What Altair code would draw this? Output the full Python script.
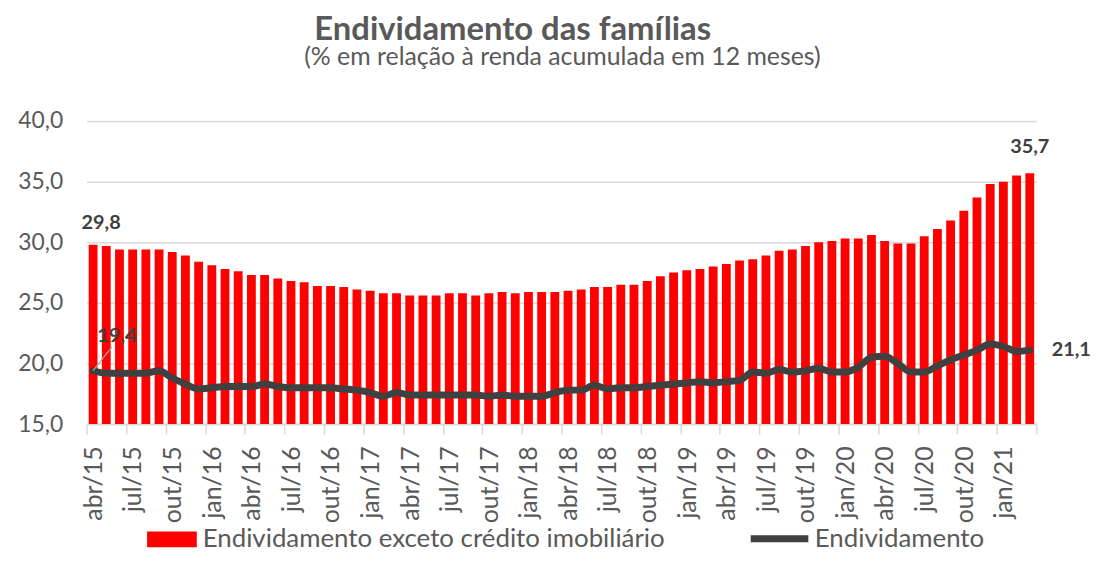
import json
import altair as alt
import pandas as pd

# ---------------- data ----------------
nomes_mes = ["jan", "fev", "mar", "abr", "mai", "jun", "jul", "ago", "set", "out", "nov", "dez"]
meses = []
for k in range(72):
    m = (3 + k) % 12
    a = 15 + (3 + k) // 12
    meses.append(f"{nomes_mes[m]}/{a:02d}")

exceto_imob = [
    29.8, 29.7, 29.4, 29.4, 29.4, 29.4, 29.2, 28.9, 28.4, 28.1, 27.8, 27.6,
    27.3, 27.3, 27.0, 26.8, 26.7, 26.4, 26.4, 26.3, 26.1, 26.0, 25.8, 25.8,
    25.6, 25.6, 25.6, 25.8, 25.8, 25.6, 25.8, 25.9, 25.8, 25.9, 25.9, 25.9,
    26.0, 26.1, 26.3, 26.3, 26.5, 26.5, 26.8, 27.2, 27.5, 27.7, 27.8, 28.0,
    28.2, 28.5, 28.6, 28.9, 29.3, 29.4, 29.7, 30.0, 30.1, 30.3, 30.3, 30.6,
    30.1, 29.9, 29.9, 30.5, 31.1, 31.8, 32.6, 33.7, 34.8, 35.0, 35.5, 35.7,
]
endividamento = [
    19.4, 19.2, 19.2, 19.2, 19.2, 19.4, 18.8, 18.3, 17.9, 18.0, 18.1, 18.1,
    18.1, 18.3, 18.1, 18.0, 18.0, 18.0, 18.0, 17.9, 17.8, 17.6, 17.3, 17.6,
    17.4, 17.4, 17.4, 17.4, 17.4, 17.4, 17.3, 17.4, 17.3, 17.3, 17.3, 17.6,
    17.8, 17.8, 18.2, 17.9, 18.0, 18.0, 18.1, 18.2, 18.3, 18.4, 18.5, 18.4,
    18.5, 18.6, 19.3, 19.2, 19.5, 19.3, 19.4, 19.6, 19.3, 19.3, 19.7, 20.5,
    20.6, 20.0, 19.3, 19.3, 19.8, 20.3, 20.7, 21.1, 21.6, 21.4, 21.0, 21.1,
]
y_ticks = [15, 20, 25, 30, 35, 40]
serie_barras = "Endividamento exceto crédito imobiliário"
serie_linha = "Endividamento"
titulo = "Endividamento das famílias"
subtitulo = "(% em relação à renda acumulada em 12 meses)"

df = pd.DataFrame({
    "mes": meses,
    "i": list(range(len(meses))),
    "exceto": exceto_imob,
    "endiv": endividamento,
})

# ---------------- style ----------------
W, H = 956, 305
FONT = "Lato"
GREY = "#595959"
DARK = "#404040"
GRID = "#d9d9d9"
N = len(meses)

tick_vals = list(range(0, N + 1, 3))
tick_labels = meses[::3]
label_expr = f"datum.value < {N} ? {json.dumps(tick_labels)}[datum.value / 3] : ''"

xscale = alt.Scale(domain=[0, N], nice=False, zero=False)
yscale = alt.Scale(domain=[15, 40], nice=False, zero=False)

x_axis = alt.Axis(
    values=tick_vals, tickCount=200, labelExpr=label_expr, title=None, grid=False,
    labelAngle=-90, labelFont=FONT, labelFontSize=25, labelColor=GREY,
    labelOffset=7, labelPadding=12, tickSize=10, tickColor=GRID, tickWidth=1.5,
    domainColor=GRID, domainWidth=1.5, labelOverlap=False, labelBound=False,
)
y_axis = alt.Axis(
    values=y_ticks, title=None, grid=True, gridColor=GRID, gridWidth=1.5,
    domain=False, ticks=False, labelFont=FONT, labelFontSize=23, labelColor=GREY,
    labelPadding=24, labelExpr="replace(format(datum.value, '.1f'), '.', ',')",
)

base = alt.Chart(df).transform_calculate(
    x0="datum.i", x1="datum.i + 1", xc="datum.i + 0.5",
    t_bar="replace(format(datum.exceto, '.1f'), '.', ',')",
    t_line="replace(format(datum.endiv, '.1f'), '.', ',')",
)

bars = base.transform_calculate(serie=f"'{serie_barras}'").mark_bar(
    xOffset=2.2, x2Offset=-2.2
).encode(
    x=alt.X("x0:Q", scale=xscale, axis=x_axis),
    x2="x1:Q",
    y=alt.Y("exceto:Q", scale=yscale, axis=y_axis),
    y2=alt.datum(15),
    fill=alt.Fill(
        "serie:N",
        scale=alt.Scale(domain=[serie_barras], range=["#ff0000"]),
        legend=alt.Legend(
            title=None, orient="none", legendX=61, legendY=396, padding=0,
            symbolType="M-1,-0.32L1,-0.32L1,0.32L-1,0.32Z", symbolSize=2500,
            symbolStrokeWidth=0, labelFont=FONT, labelFontSize=26,
            labelColor=GREY, labelOffset=6, labelLimit=0,
        ),
    ),
)

line = base.transform_calculate(serie=f"'{serie_linha}'").mark_line(
    strokeWidth=7, interpolate="monotone", strokeCap="round", strokeJoin="round"
).encode(
    x=alt.X("xc:Q", scale=xscale),
    y=alt.Y("endiv:Q", scale=yscale),
    stroke=alt.Stroke(
        "serie:N",
        scale=alt.Scale(domain=[serie_linha], range=[DARK]),
        legend=alt.Legend(
            title=None, orient="none", legendX=665, legendY=388, padding=0,
            symbolType="stroke", symbolSize=3364, symbolStrokeWidth=7,
            labelFont=FONT, labelFontSize=26, labelColor=GREY, labelOffset=3,
            labelLimit=0,
        ),
    ),
)

lbl_kw = dict(font=FONT, fontSize=20, fontWeight="bold", color=DARK, baseline="middle")

lbl_first_bar = base.transform_filter("datum.i == 0").mark_text(dx=8, dy=-22, **lbl_kw).encode(
    x="xc:Q", y="exceto:Q", text="t_bar:N")
lbl_last_bar = base.transform_filter(f"datum.i == {N-1}").mark_text(dx=0, dy=-26, **lbl_kw).encode(
    x="xc:Q", y="exceto:Q", text="t_bar:N")
lbl_first_line = base.transform_filter("datum.i == 0").mark_text(dx=24, dy=-35, **lbl_kw).encode(
    x="xc:Q", y="endiv:Q", text="t_line:N")
lbl_last_line = base.transform_filter(f"datum.i == {N-1}").mark_text(dx=22, align="left", **lbl_kw).encode(
    x="xc:Q", y="endiv:Q", text="t_line:N")
leader = base.transform_filter("datum.i == 0").mark_rule(
    color="#a6a6a6", strokeWidth=1.2, x2Offset=19, y2Offset=-24
).encode(x="xc:Q", x2="xc:Q", y="endiv:Q", y2="endiv:Q")

title_mark = alt.Chart(pd.DataFrame({"t": [titulo]})).mark_text(
    font=FONT, fontSize=33, fontWeight="bold", color=GREY, align="center", baseline="alphabetic"
).encode(x=alt.value(429), y=alt.value(-82), text="t:N")
subtitle_mark = alt.Chart(pd.DataFrame({"t": [subtitulo]})).mark_text(
    font=FONT, fontSize=25, color=GREY, align="center", baseline="alphabetic"
).encode(x=alt.value(479), y=alt.value(-56), text="t:N")

chart = alt.layer(
    bars, line, leader, lbl_first_bar, lbl_last_bar, lbl_first_line, lbl_last_line,
    title_mark, subtitle_mark,
).resolve_legend(fill="independent", stroke="independent").properties(
    width=W, height=H,
    padding={"left": 79, "top": 112, "right": 58, "bottom": 128},
    autosize=alt.AutoSizeParams(type="none"),
    background="white",
).configure_view(stroke=None)

chart.save("out.html", embed_options={"renderer": "svg", "actions": False})
